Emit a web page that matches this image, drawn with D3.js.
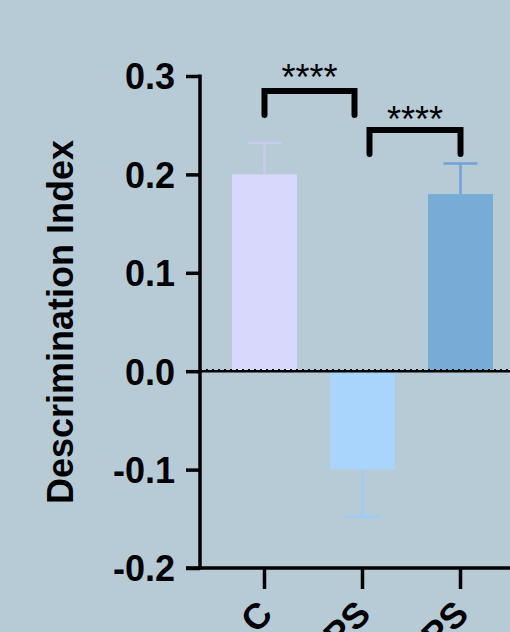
<!DOCTYPE html>
<html><head><meta charset="utf-8">
<script src="https://cdn.jsdelivr.net/npm/d3@7"></script>
<style>html,body{margin:0;padding:0;background:#b6cbd5;}svg{display:block;}</style>
</head><body>
<script>
const categories = ["C", "LPS", "TX+LPS"];
const means = [0.20, -0.10, 0.18];
const errors = [0.032, 0.048, 0.031];
const yTicks = [-0.2, -0.1, 0.0, 0.1, 0.2, 0.3];
const yTickLabels = ["-0.2", "-0.1", "0.0", "0.1", "0.2", "0.3"];
const comparisons = [{a: 0, b: 1, label: "****"}, {a: 1, b: 2, label: "****"}];
const barColors = ["#d7d8fc", "#a9d5fc", "#79abd7"];
const errColors = ["#c9cbf3", "#9ccbf6", "#6fa3d3"];

const W = 510, H = 632;
const svg = d3.select("body").append("svg").attr("width", W).attr("height", H);
svg.append("rect").attr("width", W).attr("height", H).attr("fill", "#b6cbd5");

const y = d3.scaleLinear().domain([-0.2, 0.3]).range([568, 76]);
const x = d3.scaleBand().domain(categories).range([200, 525]).paddingInner(0.337).paddingOuter(0.3265);
const font = "Liberation Sans, Arial, Helvetica, sans-serif";

// bars
svg.selectAll("rect.bar").data(means).join("rect")
  .attr("class", "bar")
  .attr("x", (d, i) => x(categories[i]))
  .attr("width", x.bandwidth())
  .attr("y", d => y(Math.max(0, d)))
  .attr("height", d => Math.abs(y(d) - y(0)))
  .attr("fill", (d, i) => barColors[i]);

// error bars
means.forEach((m, i) => {
  const cx = x(categories[i]) + x.bandwidth() / 2;
  const end = m >= 0 ? m + errors[i] : m - errors[i];
  const g = svg.append("g").attr("stroke", errColors[i]).attr("stroke-width", 2.5);
  g.append("line").attr("x1", cx).attr("x2", cx).attr("y1", y(m)).attr("y2", y(end));
  g.append("line").attr("x1", cx - 17).attr("x2", cx + 17).attr("y1", y(end)).attr("y2", y(end));
});

// zero line
svg.append("line").attr("x1", 200).attr("x2", W).attr("y1", y(0)).attr("y2", y(0))
  .attr("stroke", "#000").attr("stroke-width", 2.5);
svg.append("line").attr("x1", 200).attr("x2", W).attr("y1", y(0) - 1.5).attr("y2", y(0) - 1.5)
  .attr("stroke", "#000").attr("stroke-width", 1.5).attr("stroke-dasharray", "2,4");

// y axis
const yAxis = d3.axisLeft(y).tickValues(yTicks).tickFormat((d, i) => yTickLabels[i]).tickSize(14).tickSizeOuter(0).tickPadding(11);
const gy = svg.append("g").attr("transform", "translate(200,0)").call(yAxis);
gy.attr("font-size", null).attr("font-family", null);
gy.select(".domain").attr("stroke", "#000").attr("stroke-width", 3.5).attr("d", `M0,${y(0.3) - 1.5}V${y(-0.2) + 1.5}`);
gy.selectAll(".tick line").attr("stroke", "#000").attr("stroke-width", 3.5);
gy.selectAll(".tick text").style("font-family", font).style("font-weight", "bold").style("font-size", "36px").attr("fill", "#000").attr("dy", "0.36em");

// x axis
const xAxis = d3.axisBottom(x).tickSize(21).tickSizeOuter(0).tickPadding(6);
const gx = svg.append("g").attr("transform", `translate(0,${y(-0.2)})`).call(xAxis);
gx.attr("font-size", null).attr("font-family", null);
gx.select(".domain").attr("stroke", "#000").attr("stroke-width", 3.5).attr("d", `M186,0H${W + 5}`);
gx.selectAll(".tick line").attr("stroke", "#000").attr("stroke-width", 3.5);
gx.selectAll(".tick text").style("font-family", font).style("font-weight", "bold").style("font-size", "36px").attr("fill", "#000")
  .attr("text-anchor", "end").attr("dy", "0").attr("transform", "translate(10,48) rotate(-45)").attr("y", 0).attr("x", 0);

// y title
svg.append("text").attr("transform", `translate(73,${(y(0.3) + y(-0.2)) / 2}) rotate(-90)`)
  .attr("text-anchor", "middle").style("font-family", font).style("font-weight", "bold").style("font-size", "36px")
  .attr("fill", "#000").text("Descrimination Index");

// significance brackets
const brTop = [91, 130];
const starOffset = [-1, 2];
comparisons.forEach((c, k) => {
  const xa = x(categories[c.a]) + x.bandwidth() / 2 + (k === 1 ? 7 : 0);
  const xb = x(categories[c.b]) + x.bandwidth() / 2 - (k === 0 ? 8 : 0);
  const t = brTop[k];
  svg.append("path").attr("d", `M${xa},${t + 24}V${t}H${xb}V${t + 24}`)
    .attr("fill", "none").attr("stroke", "#000").attr("stroke-width", 6)
    .attr("stroke-linecap", "round").attr("stroke-linejoin", "miter");
  svg.append("text").attr("x", (xa + xb) / 2).attr("y", t + starOffset[k]).attr("text-anchor", "middle")
    .style("font-family", font).style("font-size", "36px").attr("fill", "#000").text(c.label);
});
</script>
</body></html>
